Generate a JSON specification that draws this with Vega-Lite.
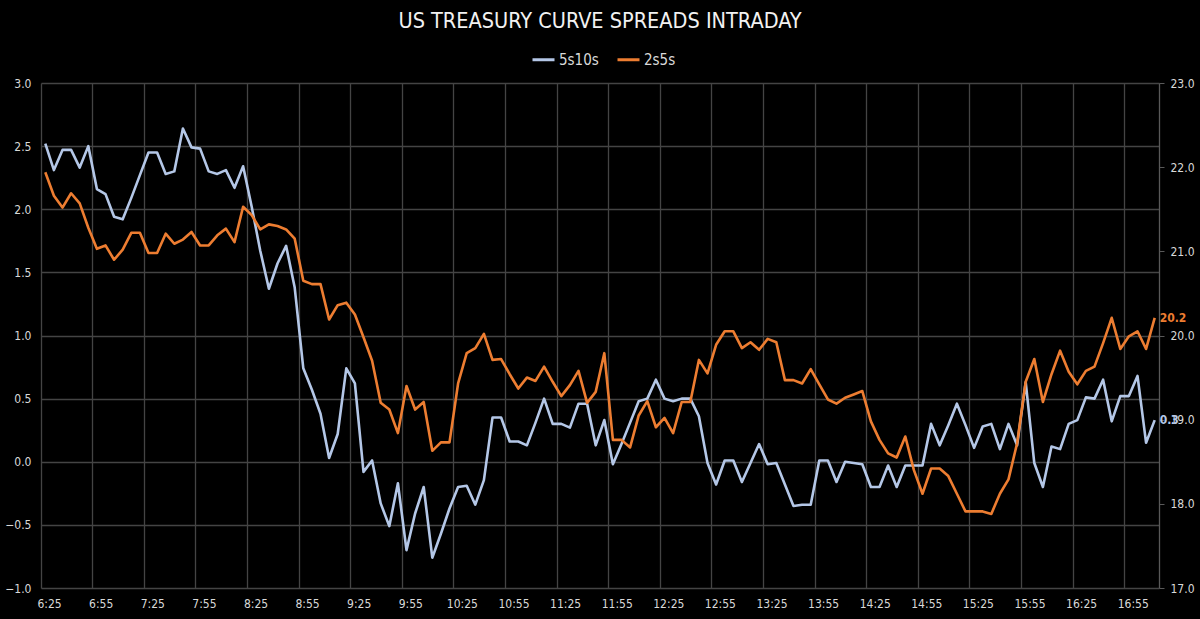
{
  "$schema": "https://vega.github.io/schema/vega-lite/v6.json",
  "width": 1118,
  "height": 505,
  "autosize": "none",
  "padding": {"left": 41, "top": 83, "right": 41, "bottom": 31},
  "background": "#000000",
  "config": {
    "view": {"stroke": null},
    "font": "DejaVu Sans Condensed, Roboto, sans-serif",
    "axis": {"labelFont": "DejaVu Sans Condensed, Roboto, sans-serif", "labelColor": "#d9d9d9", "labelFontSize": 12},
    "legend": {"labelFont": "DejaVu Sans Condensed, Roboto, sans-serif"}
  },
  "title": {
    "text": "US TREASURY CURVE SPREADS INTRADAY",
    "anchor": "middle",
    "frame": "group",
    "color": "#f2f2f2",
    "font": "DejaVu Sans Condensed, Roboto, sans-serif",
    "fontSize": 21.5,
    "fontWeight": "normal",
    "offset": 15
  },
  "data": {
    "values": [
      {"t":"6:25","5s10s":2.52,"2s5s":21.94},
      {"t":"6:30","5s10s":2.31,"2s5s":21.66},
      {"t":"6:35","5s10s":2.47,"2s5s":21.52},
      {"t":"6:40","5s10s":2.47,"2s5s":21.69},
      {"t":"6:45","5s10s":2.33,"2s5s":21.57},
      {"t":"6:50","5s10s":2.50,"2s5s":21.28},
      {"t":"6:55","5s10s":2.16,"2s5s":21.03},
      {"t":"7:00","5s10s":2.12,"2s5s":21.07},
      {"t":"7:05","5s10s":1.94,"2s5s":20.90},
      {"t":"7:10","5s10s":1.92,"2s5s":21.02},
      {"t":"7:15","5s10s":2.09,"2s5s":21.22},
      {"t":"7:20","5s10s":2.27,"2s5s":21.22},
      {"t":"7:25","5s10s":2.45,"2s5s":20.98},
      {"t":"7:30","5s10s":2.45,"2s5s":20.98},
      {"t":"7:35","5s10s":2.28,"2s5s":21.21},
      {"t":"7:40","5s10s":2.30,"2s5s":21.09},
      {"t":"7:45","5s10s":2.64,"2s5s":21.14},
      {"t":"7:50","5s10s":2.49,"2s5s":21.23},
      {"t":"7:55","5s10s":2.48,"2s5s":21.07},
      {"t":"8:00","5s10s":2.30,"2s5s":21.07},
      {"t":"8:05","5s10s":2.28,"2s5s":21.19},
      {"t":"8:10","5s10s":2.31,"2s5s":21.27},
      {"t":"8:15","5s10s":2.17,"2s5s":21.11},
      {"t":"8:20","5s10s":2.34,"2s5s":21.53},
      {"t":"8:25","5s10s":2.02,"2s5s":21.43},
      {"t":"8:30","5s10s":1.67,"2s5s":21.26},
      {"t":"8:35","5s10s":1.37,"2s5s":21.32},
      {"t":"8:40","5s10s":1.57,"2s5s":21.30},
      {"t":"8:45","5s10s":1.71,"2s5s":21.26},
      {"t":"8:50","5s10s":1.38,"2s5s":21.15},
      {"t":"8:55","5s10s":0.74,"2s5s":20.65},
      {"t":"9:00","5s10s":0.57,"2s5s":20.61},
      {"t":"9:05","5s10s":0.38,"2s5s":20.61},
      {"t":"9:10","5s10s":0.03,"2s5s":20.19},
      {"t":"9:15","5s10s":0.22,"2s5s":20.36},
      {"t":"9:20","5s10s":0.74,"2s5s":20.39},
      {"t":"9:25","5s10s":0.62,"2s5s":20.25},
      {"t":"9:30","5s10s":-0.08,"2s5s":19.98},
      {"t":"9:35","5s10s":0.01,"2s5s":19.70},
      {"t":"9:40","5s10s":-0.33,"2s5s":19.20},
      {"t":"9:45","5s10s":-0.51,"2s5s":19.12},
      {"t":"9:50","5s10s":-0.17,"2s5s":18.84},
      {"t":"9:55","5s10s":-0.70,"2s5s":19.40},
      {"t":"10:00","5s10s":-0.41,"2s5s":19.12},
      {"t":"10:05","5s10s":-0.20,"2s5s":19.21},
      {"t":"10:10","5s10s":-0.76,"2s5s":18.63},
      {"t":"10:15","5s10s":-0.57,"2s5s":18.73},
      {"t":"10:20","5s10s":-0.37,"2s5s":18.73},
      {"t":"10:25","5s10s":-0.20,"2s5s":19.43},
      {"t":"10:30","5s10s":-0.19,"2s5s":19.79},
      {"t":"10:35","5s10s":-0.34,"2s5s":19.85},
      {"t":"10:40","5s10s":-0.145,"2s5s":20.02},
      {"t":"10:45","5s10s":0.35,"2s5s":19.71},
      {"t":"10:50","5s10s":0.35,"2s5s":19.72},
      {"t":"10:55","5s10s":0.16,"2s5s":19.54},
      {"t":"11:00","5s10s":0.16,"2s5s":19.37},
      {"t":"11:05","5s10s":0.13,"2s5s":19.50},
      {"t":"11:10","5s10s":0.31,"2s5s":19.46},
      {"t":"11:15","5s10s":0.50,"2s5s":19.63},
      {"t":"11:20","5s10s":0.30,"2s5s":19.45},
      {"t":"11:25","5s10s":0.30,"2s5s":19.28},
      {"t":"11:30","5s10s":0.27,"2s5s":19.41},
      {"t":"11:35","5s10s":0.46,"2s5s":19.58},
      {"t":"11:40","5s10s":0.46,"2s5s":19.20},
      {"t":"11:45","5s10s":0.13,"2s5s":19.33},
      {"t":"11:50","5s10s":0.33,"2s5s":19.79},
      {"t":"11:55","5s10s":-0.02,"2s5s":18.76},
      {"t":"12:00","5s10s":0.14,"2s5s":18.76},
      {"t":"12:05","5s10s":0.31,"2s5s":18.67},
      {"t":"12:10","5s10s":0.48,"2s5s":19.05},
      {"t":"12:15","5s10s":0.50,"2s5s":19.22},
      {"t":"12:20","5s10s":0.65,"2s5s":18.91},
      {"t":"12:25","5s10s":0.50,"2s5s":19.02},
      {"t":"12:30","5s10s":0.48,"2s5s":18.84},
      {"t":"12:35","5s10s":0.50,"2s5s":19.21},
      {"t":"12:40","5s10s":0.50,"2s5s":19.21},
      {"t":"12:45","5s10s":0.36,"2s5s":19.71},
      {"t":"12:50","5s10s":-0.01,"2s5s":19.55},
      {"t":"12:55","5s10s":-0.18,"2s5s":19.89},
      {"t":"13:00","5s10s":0.01,"2s5s":20.05},
      {"t":"13:05","5s10s":0.01,"2s5s":20.05},
      {"t":"13:10","5s10s":-0.16,"2s5s":19.85},
      {"t":"13:15","5s10s":-0.01,"2s5s":19.92},
      {"t":"13:20","5s10s":0.14,"2s5s":19.83},
      {"t":"13:25","5s10s":-0.02,"2s5s":19.96},
      {"t":"13:30","5s10s":-0.01,"2s5s":19.92},
      {"t":"13:35","5s10s":-0.18,"2s5s":19.47},
      {"t":"13:40","5s10s":-0.35,"2s5s":19.47},
      {"t":"13:45","5s10s":-0.34,"2s5s":19.43},
      {"t":"13:50","5s10s":-0.34,"2s5s":19.60},
      {"t":"13:55","5s10s":0.01,"2s5s":19.42},
      {"t":"14:00","5s10s":0.01,"2s5s":19.24},
      {"t":"14:05","5s10s":-0.16,"2s5s":19.19},
      {"t":"14:10","5s10s":0.00,"2s5s":19.26},
      {"t":"14:15","5s10s":-0.01,"2s5s":19.30},
      {"t":"14:20","5s10s":-0.02,"2s5s":19.34},
      {"t":"14:25","5s10s":-0.20,"2s5s":18.98},
      {"t":"14:30","5s10s":-0.20,"2s5s":18.76},
      {"t":"14:35","5s10s":-0.03,"2s5s":18.60},
      {"t":"14:40","5s10s":-0.20,"2s5s":18.55},
      {"t":"14:45","5s10s":-0.03,"2s5s":18.80},
      {"t":"14:50","5s10s":-0.03,"2s5s":18.40},
      {"t":"14:55","5s10s":-0.03,"2s5s":18.12},
      {"t":"15:00","5s10s":0.30,"2s5s":18.42},
      {"t":"15:05","5s10s":0.13,"2s5s":18.42},
      {"t":"15:10","5s10s":0.29,"2s5s":18.33},
      {"t":"15:15","5s10s":0.46,"2s5s":18.12},
      {"t":"15:20","5s10s":0.29,"2s5s":17.91},
      {"t":"15:25","5s10s":0.11,"2s5s":17.91},
      {"t":"15:30","5s10s":0.28,"2s5s":17.91},
      {"t":"15:35","5s10s":0.30,"2s5s":17.88},
      {"t":"15:40","5s10s":0.10,"2s5s":18.12},
      {"t":"15:45","5s10s":0.30,"2s5s":18.29},
      {"t":"15:50","5s10s":0.13,"2s5s":18.72},
      {"t":"15:55","5s10s":0.63,"2s5s":19.45},
      {"t":"16:00","5s10s":-0.01,"2s5s":19.72},
      {"t":"16:05","5s10s":-0.20,"2s5s":19.21},
      {"t":"16:10","5s10s":0.12,"2s5s":19.54},
      {"t":"16:15","5s10s":0.10,"2s5s":19.82},
      {"t":"16:20","5s10s":0.30,"2s5s":19.57},
      {"t":"16:25","5s10s":0.33,"2s5s":19.42},
      {"t":"16:30","5s10s":0.51,"2s5s":19.58},
      {"t":"16:35","5s10s":0.50,"2s5s":19.63},
      {"t":"16:40","5s10s":0.65,"2s5s":19.91},
      {"t":"16:45","5s10s":0.32,"2s5s":20.21},
      {"t":"16:50","5s10s":0.52,"2s5s":19.84},
      {"t":"16:55","5s10s":0.52,"2s5s":19.99},
      {"t":"17:00","5s10s":0.68,"2s5s":20.05},
      {"t":"17:05","5s10s":0.15,"2s5s":19.84},
      {"t":"17:10","5s10s":0.33,"2s5s":20.21}
    ]
  },
  "transform": [{"fold": ["5s10s", "2s5s"], "as": ["series", "value"]}],
  "encoding": {
    "x": {
      "field": "t",
      "type": "ordinal",
      "sort": null,
      "bandPosition": 0.5,
      "scale": {"type": "band", "paddingInner": 0, "paddingOuter": 0},
      "axis": {
        "values": ["6:25","6:55","7:25","7:55","8:25","8:55","9:25","9:55","10:25","10:55","11:25","11:55","12:25","12:55","13:25","13:55","14:25","14:55","15:25","15:55","16:25","16:55"],
        "bandPosition": 0,
        "labelOffset": 4.3,
        "labelAngle": 0,
        "labelAlign": "center",
        "grid": true,
        "gridColor": "#444444",
        "gridWidth": 1.3,
        "domain": false,
        "ticks": false,
        "labelPadding": 10,
        "title": null
      }
    }
  },
  "layer": [
    {
      "transform": [{"filter": "datum.series === '5s10s'"}],
      "encoding": {
        "y": {
          "field": "value",
          "type": "quantitative",
          "scale": {"domain": [-1, 3], "nice": false, "zero": false},
          "axis": {
            "orient": "left",
            "values": [-1, -0.5, 0, 0.5, 1, 1.5, 2, 2.5, 3],
            "format": ".1f",
            "grid": true,
            "gridColor": "#444444",
            "gridWidth": 1.3,
            "domain": false,
            "ticks": false,
            "labelPadding": 10,
            "title": null
          }
        }
      },
      "layer": [
        {
          "mark": {"type": "line", "strokeWidth": 2.6, "strokeJoin": "round"},
          "encoding": {
            "color": {
              "field": "series",
              "type": "nominal",
              "scale": {"domain": ["5s10s", "2s5s"], "range": ["#b4c7e7", "#ed7d31"]},
              "legend": {
                "orient": "none",
                "legendX": 490,
                "legendY": -36,
                "direction": "horizontal",
                "title": null,
                "symbolType": "stroke",
                "symbolSize": 484,
                "symbolStrokeWidth": 3,
                "labelColor": "#d9d9d9",
                "labelFontSize": 15,
                "columnPadding": 12,
                "labelOffset": 3
              }
            }
          }
        },
        {
          "transform": [{"filter": "datum.t === '17:10'"}],
          "mark": {"type": "text", "align": "left", "dx": 5, "fontSize": 12, "color": "#b4c7e7", "fontWeight": "bold"},
          "encoding": {"text": {"field": "value", "type": "quantitative", "format": ".1f"}}
        }
      ]
    },
    {
      "transform": [{"filter": "datum.series === '2s5s'"}],
      "encoding": {
        "y": {
          "field": "value",
          "type": "quantitative",
          "scale": {"domain": [17, 23], "nice": false, "zero": false},
          "axis": {
            "orient": "right",
            "values": [17, 18, 19, 20, 21, 22, 23],
            "format": ".1f",
            "grid": false,
            "domain": true,
            "domainColor": "#595959",
            "domainWidth": 1.3,
            "ticks": true,
            "tickColor": "#595959",
            "tickSize": 5,
            "labelPadding": 6,
            "title": null
          }
        }
      },
      "layer": [
        {
          "mark": {"type": "line", "strokeWidth": 2.6, "strokeJoin": "round"},
          "encoding": {
            "color": {"field": "series", "type": "nominal"}
          }
        },
        {
          "transform": [{"filter": "datum.t === '17:10'"}],
          "mark": {"type": "text", "align": "left", "dx": 5, "fontSize": 12, "color": "#ed7d31", "fontWeight": "bold"},
          "encoding": {"text": {"field": "value", "type": "quantitative", "format": ".1f"}}
        }
      ]
    }
  ],
  "resolve": {"scale": {"y": "independent"}, "axis": {"y": "independent"}}
}
